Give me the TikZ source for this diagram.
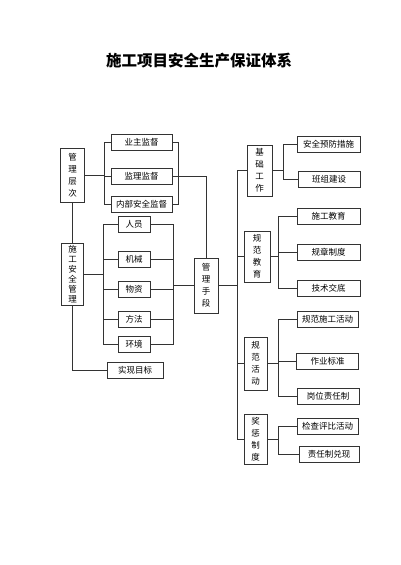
\documentclass[tikz,border=0pt]{standalone}
\usepackage{fontspec}
\newfontfamily\cjk{Noto Sans CJK SC}
\usepackage{tikz}

\begin{document}
\begin{tikzpicture}[x=1pt,y=-1pt,line width=0.7pt,
    box/.style={draw=black!80,inner sep=0pt,minimum height=16pt,
      font=\cjk\fontsize{8.5}{10}\selectfont},
    vbox/.style={draw=black!80,inner sep=0pt,align=center,
      font=\cjk\fontsize{8.5}{12}\selectfont},
    link/.style={draw=black!80}
    ]
  \useasboundingbox (0,0) rectangle (400,565);

  \node[font=\cjk\bfseries\fontsize{15.5}{16}\selectfont] (title) at (199,61) {施工项目安全生产保证体系};

  % left part
  \node[vbox,minimum width=24pt,minimum height=54pt] (gl) at (72.5,175) {管\\理\\层\\次};
  \node[box,minimum width=61pt] (yz) at (141.5,142.5) {业主监督};
  \node[box,minimum width=61pt] (jl) at (141.5,176.5) {监理监督};
  \node[box,minimum width=61pt] (nb) at (141.5,204) {内部安全监督};

  \node[vbox,minimum width=22pt,minimum height=62pt,
        font=\cjk\fontsize{8.5}{10}\selectfont] (sg) at (72.5,274) {施\\工\\安\\全\\管\\理};
  \node[box,minimum width=32pt] (ry) at (134,224.5) {人员};
  \node[box,minimum width=32pt] (jx) at (134,259) {机械};
  \node[box,minimum width=32pt] (wz) at (134,289.5) {物资};
  \node[box,minimum width=32pt] (ff) at (134,319.5) {方法};
  \node[box,minimum width=32pt] (hj) at (134,344.5) {环境};
  \node[box,minimum width=56pt] (sb) at (135,370) {实现目标};

  \node[vbox,minimum width=24pt,minimum height=55pt] (sd) at (206,285.5) {管\\理\\手\\段};

  % right part
  \node[vbox,minimum width=25pt,minimum height=51pt] (jc) at (259.5,170.5) {基\\础\\工\\作};
  \node[box,minimum width=63pt] (aq) at (328.5,144.5) {安全预防措施};
  \node[box,minimum width=62pt] (bz) at (329,179) {班组建设};

  \node[vbox,minimum width=26pt,minimum height=51pt] (gj) at (257,256.5) {规\\范\\教\\育};
  \node[box,minimum width=63pt] (sj) at (328.5,216) {施工教育};
  \node[box,minimum width=63pt] (gz) at (328.5,252) {规章制度};
  \node[box,minimum width=63pt] (js) at (328.5,288) {技术交底};

  \node[vbox,minimum width=23pt,minimum height=53pt] (gh) at (255.5,363.5) {规\\范\\活\\动};
  \node[box,minimum width=61pt] (gs) at (327.5,319.5) {规范施工活动};
  \node[box,minimum width=62pt] (zb) at (327.5,361.5) {作业标准};
  \node[box,minimum width=62pt] (gw) at (328,396.5) {岗位责任制};

  \node[vbox,minimum width=23pt,minimum height=50pt] (jcz) at (255.5,439) {奖\\惩\\制\\度};
  \node[box,minimum width=61pt] (jp) at (327.5,426.5) {检查评比活动};
  \node[box,minimum width=60pt] (zr) at (329,454.5) {责任制兑现};

  % connectors
  \coordinate (b1) at (104,175);
  \coordinate (b2) at (178,176.5);
  \draw[link] (gl.east) -- (b1);
  \foreach \n in {yz,jl,nb} {
    \draw[link] (b1) |- (\n.west);
    \draw[link] (\n.east) -| (b2);
  }
  \draw[link] (jl.east) -| (sd.north);
  \draw[link] (gl.south) -- (sg.north);

  \coordinate (b3) at (103,274);
  \coordinate (b4) at (173,285.5);
  \draw[link] (sg.east) -- (b3);
  \foreach \n in {ry,jx,wz,ff,hj} {
    \draw[link] (b3) |- (\n.west);
    \draw[link] (\n.east) -| (b4);
  }
  \draw[link] (b4) -- (sd.west);
  \draw[link] (sg.south) |- (sb.west);

  \coordinate (m) at (237,285.5);
  \draw[link] (sd.east) -- (m);
  \foreach \n in {jc,gj,gh,jcz}
    \draw[link] (m) |- (\n.west);

  \coordinate (c1) at (283,170.5);
  \draw[link] (jc.east) -- (c1);
  \foreach \n in {aq,bz} \draw[link] (c1) |- (\n.west);

  \coordinate (c2) at (278,256.5);
  \draw[link] (gj.east) -- (c2);
  \foreach \n in {sj,gz,js} \draw[link] (c2) |- (\n.west);

  \coordinate (c3) at (278,363.5);
  \draw[link] (gh.east) -- (c3);
  \foreach \n in {gs,zb,gw} \draw[link] (c3) |- (\n.west);

  \coordinate (c4) at (278,439);
  \draw[link] (jcz.east) -- (c4);
  \foreach \n in {jp,zr} \draw[link] (c4) |- (\n.west);
\end{tikzpicture}
\end{document}
